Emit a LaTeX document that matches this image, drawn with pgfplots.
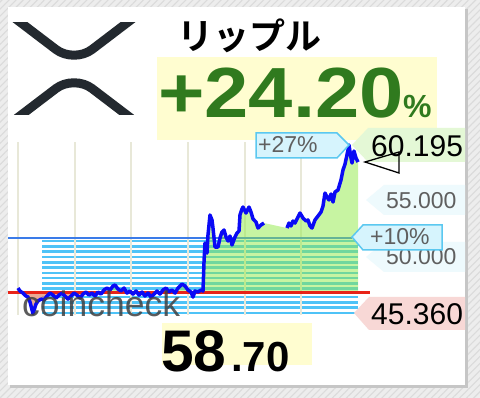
\documentclass[border=0pt]{standalone}
\usepackage{pgfplots}
\pgfplotsset{compat=1.18}
\usepackage{pgfplotstable}
\usetikzlibrary{patterns.meta}
\usepackage{fontspec}
\setmainfont{Liberation Sans}
\newfontfamily\jpb{Noto Sans CJK JP Bold}

\definecolor{pricebl}{RGB}{10,10,245}
\definecolor{basered}{RGB}{232,36,24}
\definecolor{tenbl}{RGB}{58,123,232}
\definecolor{stripe}{RGB}{79,195,247}
\definecolor{gridc}{RGB}{232,232,216}
\definecolor{upfill}{RGB}{145,235,70}
\definecolor{dnfill}{RGB}{226,134,105}
\definecolor{pctgreen}{RGB}{48,122,30}
\definecolor{hiyel}{RGB}{255,253,208}
\definecolor{tagcy}{RGB}{214,244,253}
\definecolor{tagbd}{RGB}{91,200,240}
\definecolor{tagpale}{RGB}{238,250,253}
\definecolor{taggr}{RGB}{228,248,214}
\definecolor{tagpk}{RGB}{248,216,214}
\definecolor{txtgray}{RGB}{95,95,95}
\definecolor{logoc}{RGB}{35,41,47}

% XRP/JPY price over the period (time index 0..100, price in JPY)
\pgfplotstableread{
x y
0.00 47.61
0.59 47.35
1.47 47.17
2.35 46.91
2.94 46.82
3.53 46.38
4.41 45.36
5.29 46.20
5.88 46.47
6.76 46.64
7.65 46.56
8.53 46.91
9.41 47.17
10.29 46.99
11.18 46.73
12.06 46.99
12.94 47.17
13.82 46.91
14.71 46.64
15.59 46.91
16.47 47.17
17.35 46.99
18.24 46.73
19.12 47.08
20.00 47.26
20.88 46.99
21.76 47.17
22.65 46.91
23.53 47.26
24.41 47.08
25.29 47.44
26.18 47.61
27.06 47.44
27.94 47.79
28.53 47.88
29.41 47.52
30.29 47.35
31.18 47.61
32.06 47.17
32.94 47.35
33.82 47.08
34.71 47.35
35.59 46.99
36.47 47.26
37.35 46.91
38.24 47.17
39.12 46.82
40.00 47.08
40.88 47.35
41.76 47.08
42.65 47.44
43.53 47.61
44.41 47.26
45.29 47.44
46.18 47.17
47.06 47.61
48.24 47.96
49.12 47.79
50.00 47.44
50.88 47.26
51.47 46.82
52.06 47.35
52.94 47.26
53.82 47.44
54.41 47.35
54.71 49.90
55.00 51.57
55.29 50.96
55.59 50.69
55.88 52.28
56.47 54.04
57.06 53.60
57.35 52.89
57.94 51.22
58.82 51.22
59.41 52.01
60.00 52.54
60.59 52.72
61.18 52.10
61.76 51.75
62.35 52.19
62.94 51.40
63.82 52.10
64.41 52.45
65.00 52.63
65.29 54.04
65.88 54.57
66.18 54.74
67.06 54.21
67.94 54.74
68.53 54.30
69.12 53.69
70.00 53.42
70.59 52.89
71.47 53.16
72.35 53.33
79.12 52.89
79.71 53.33
80.29 53.07
80.88 53.51
81.47 53.33
82.06 53.69
82.94 54.21
83.82 53.77
84.71 53.51
85.29 53.60
85.88 53.07
86.47 52.89
87.35 53.60
88.24 53.95
89.12 54.30
89.71 54.83
90.29 55.97
90.88 55.62
91.47 55.36
92.06 55.89
92.65 55.18
93.24 56.06
94.12 56.24
95.00 57.12
95.59 58.00
96.18 58.52
96.76 59.32
97.35 60.195
97.94 59.05
98.24 58.61
98.82 59.67
99.41 59.05
100.00 58.70
}\pricetable

\begin{document}
\begin{tikzpicture}
% page background, card and highlight boxes (image-style coordinates, y downwards)
\begin{scope}[x=1pt,y=-1pt,shift={(0pt,398pt)}]
  \fill[gray!14] (0,0) rectangle (480,398);
  \fill[pattern={Lines[angle=45,distance=5pt,line width=1.1pt]},pattern color=gray!28] (0,0) rectangle (480,398);
  \fill[gray!45] (10,9) rectangle (468,388);
  \fill[white] (8,7) rectangle (465,385);
  \fill[hiyel] (157,57) rectangle (437,140);
  \fill[hiyel] (162,323) rectangle (312,365);
\end{scope}

\begin{axis}[
  at={(18pt,83pt)}, anchor=south west,
  scale only axis, width=340pt, height=172.98pt,
  xmin=0, xmax=100, ymin=45.24, ymax=60.46,
  hide axis, clip=false,
]
% horizontal band stripes
\pgfplotsinvokeforeach{51.747,51.28,50.815,50.349,49.882,49.416,48.949,48.483,48.017,47.55,46.82,46.354,45.887,45.421}{
  \addplot[stripe, line width=2.6pt, forget plot] coordinates {(7.06,#1) (100,#1)};
}
% vertical time grid
\pgfplotsinvokeforeach{0,16.667,33.333,50,66.667,83.333}{
  \addplot[gridc, line width=2pt, forget plot] coordinates {(#1,45.24) (#1,60.46)};
}
% +10% level
\addplot[tenbl, line width=2.2pt] coordinates {(-2.94,51.986) (98.2,51.986)};
% areas between the price and the opening price (47.26)
\addplot[draw=none, fill=upfill, fill opacity=0.5]
  table[y expr={max(\thisrow{y},47.26)}] {\pricetable}
  -- (axis cs:100,47.26) -- (axis cs:0,47.26) -- cycle;
\addplot[draw=none, fill=dnfill, fill opacity=0.7]
  table[y expr={min(\thisrow{y},47.26)}] {\pricetable}
  -- (axis cs:100,47.26) -- (axis cs:0,47.26) -- cycle;
% opening price
\addplot[basered, line width=3pt] coordinates {(-2.94,47.26) (103.5,47.26)};
% price line (no trades between the two segments)
\addplot[pricebl, line width=3.5pt, line join=round] table[restrict x to domain=0:73] {\pricetable};
\addplot[pricebl, line width=3.5pt, line join=round] table[restrict x to domain=78:100] {\pricetable};
\end{axis}

\begin{scope}[x=1pt,y=-1pt,shift={(0pt,398pt)}]
  % value tags on the right
  \fill[taggr] (352,145) -- (368,128) -- (465,128) -- (465,162) -- (368,162) -- cycle;
  \fill[tagpale] (366,200) -- (384,185) -- (465,185) -- (465,215) -- (384,215) -- cycle;
  \fill[tagpale] (366,257) -- (384,242) -- (465,242) -- (465,272) -- (384,272) -- cycle;
  \fill[tagpk] (354,313) -- (369,297) -- (465,297) -- (465,330) -- (369,330) -- cycle;
  \node[anchor=base west, inner sep=0pt, text=txtgray, font=\fontsize{23}{26}\selectfont] at (386,209) {55.000};
  \node[anchor=base west, inner sep=0pt, text=txtgray, font=\fontsize{23}{26}\selectfont] at (386,265) {50.000};
  \filldraw[fill=tagcy, draw=tagbd, line width=1.5pt] (256,133) -- (337,133) -- (349,145) -- (337,158) -- (256,158) -- cycle;
  \filldraw[fill=tagcy, draw=tagbd, line width=1.5pt] (352,237) -- (363,225) -- (442,225) -- (442,250) -- (363,250) -- cycle;
  \node[anchor=base west, inner sep=0pt, text=txtgray, font=\fontsize{23}{26}\selectfont] at (258,153) {+27\%};
  \node[anchor=base west, inner sep=0pt, text=txtgray, font=\fontsize{23}{26}\selectfont] at (370,245) {+10\%};
  \node[anchor=base west, inner sep=0pt, font=\fontsize{30}{34}\selectfont] at (371,157) {60.195};
  \node[anchor=base west, inner sep=0pt, font=\fontsize{30}{34}\selectfont] at (371,325) {45.360};
  \draw[black, line width=1.3pt, line join=miter] (365,162) -- (399,152) -- (399,173) -- cycle;
  % watermark
  \node[anchor=base west, inner sep=0pt, text=black!75, opacity=0.85, font=\fontsize{35.5}{38}\selectfont] at (22,317) {coincheck};
  % headline texts
  \node[anchor=base, inner sep=0pt, font=\jpb\fontsize{36}{40}\selectfont] at (249,50) {リップル};
  \node[anchor=base west, inner sep=0pt, text=pctgreen, font=\bfseries\fontsize{71}{76}\selectfont] at (158,118) {\scalebox{1.12}[1]{+24.20}};
  \node[anchor=base west, inner sep=0pt, text=pctgreen, font=\bfseries\fontsize{32}{36}\selectfont] at (403,118) {\%};
  \node[anchor=base west, inner sep=0pt, font=\bfseries\fontsize{58.7}{62}\selectfont] at (161,372) {58};
  \node[anchor=base west, inner sep=0pt, font=\bfseries\fontsize{42}{46}\selectfont] at (231,372) {.70};
  % logo
  \begin{scope}
    \clip (0,23) rectangle (150,115);
    \draw[logoc, line width=9pt] (12,16) -- (56,49.5) .. controls (66,57.1) and (82,57.1) .. (92,49.5) -- (136,16);
    \draw[logoc, line width=9pt] (12,122) -- (56,88.5) .. controls (66,80.9) and (82,80.9) .. (92,88.5) -- (136,122);
  \end{scope}
\end{scope}
\end{tikzpicture}
\end{document}
